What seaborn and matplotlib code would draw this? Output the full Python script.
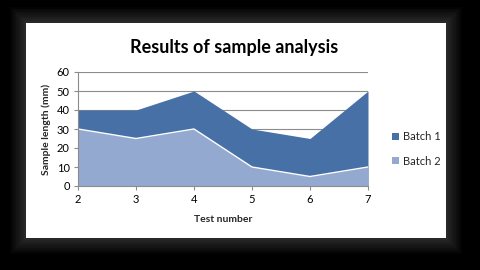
import matplotlib
matplotlib.use("Agg")
import matplotlib.pyplot as plt
import seaborn as sns
import pandas as pd
from matplotlib.patches import Rectangle, Patch

test_number = [2, 3, 4, 5, 6, 7]
batch1 = [40, 40, 50, 30, 25, 50]
batch2 = [30, 25, 30, 10, 5, 10]
series_names = ["Batch 1", "Batch 2"]
y_ticks = [0, 10, 20, 30, 40, 50, 60]

c1 = "#4771A6"
c2 = "#94A9CF"

sns.set_theme(style="white")
plt.rcParams["font.family"] = ["Lato", "DejaVu Sans"]

fig = plt.figure(figsize=(4.8, 2.7), dpi=100)
fig.patch.set_facecolor("black")
# soft glow around the white panel
n = 10
for i in range(n):
    d = (n - i) * 1.6
    fig.add_artist(Rectangle(((26 - d)/480, 1 - (238 + d)/270), (420 + 2*d)/480, (215 + 2*d)/270,
                             transform=fig.transFigure, facecolor="white", alpha=0.018,
                             edgecolor="none", zorder=0))
fig.add_artist(Rectangle((26/480, 1 - 238/270), 420/480, 215/270,
                         transform=fig.transFigure, facecolor="white", edgecolor="none", zorder=0))

ax = fig.add_axes([78/480, 1 - 186/270, 290/480, 114/270])
ax.set_facecolor("none")
df = pd.DataFrame({"test": test_number, "b1": batch1, "b2": batch2})

ax.fill_between(df["test"], 0, df["b1"], color=c1, linewidth=0, zorder=2)
ax.fill_between(df["test"], 0, df["b2"], color=c2, linewidth=0, zorder=3)
sns.lineplot(data=df, x="test", y="b2", ax=ax, color="white", linewidth=1.0, zorder=4)

ax.set_xlim(2, 7)
ax.set_ylim(0, 60)
ax.set_xticks(test_number)
ax.set_yticks(y_ticks)
for y in y_ticks[1:]:
    ax.axhline(y, color="#8C8C8C", linewidth=0.8, zorder=1)

for s in ["top", "right"]:
    ax.spines[s].set_visible(False)
for s in ["left", "bottom"]:
    ax.spines[s].set_color("#8C8C8C")
    ax.spines[s].set_linewidth(0.8)
    ax.spines[s].set_zorder(5)
ax.tick_params(axis="both", which="both", length=3, width=0.8, color="#8C8C8C",
               labelsize=8, labelcolor="black", pad=3, direction="out")
ax.tick_params(axis="x", bottom=True)
ax.tick_params(axis="y", left=True)

ax.set_xlabel("Test number", fontsize=7.5, fontweight="bold", labelpad=7)
ax.set_ylabel("Sample length (mm)", fontsize=7.5, fontweight="bold", labelpad=4)

fig.text(0.488, 1 - 47/270, "Results of sample analysis", ha="center", va="center",
         fontsize=13, fontweight="bold", color="black")

handles = [Patch(facecolor=c1, edgecolor="none"), Patch(facecolor=c2, edgecolor="none")]
fig.legend(handles, series_names, loc="center left", bbox_to_anchor=(382/480, 1 - 149/270),
           frameon=False, fontsize=8, handlelength=0.6, handleheight=0.6, handletextpad=0.4,
           labelspacing=1.2)

fig.savefig("out.png", dpi=100, facecolor="black")
